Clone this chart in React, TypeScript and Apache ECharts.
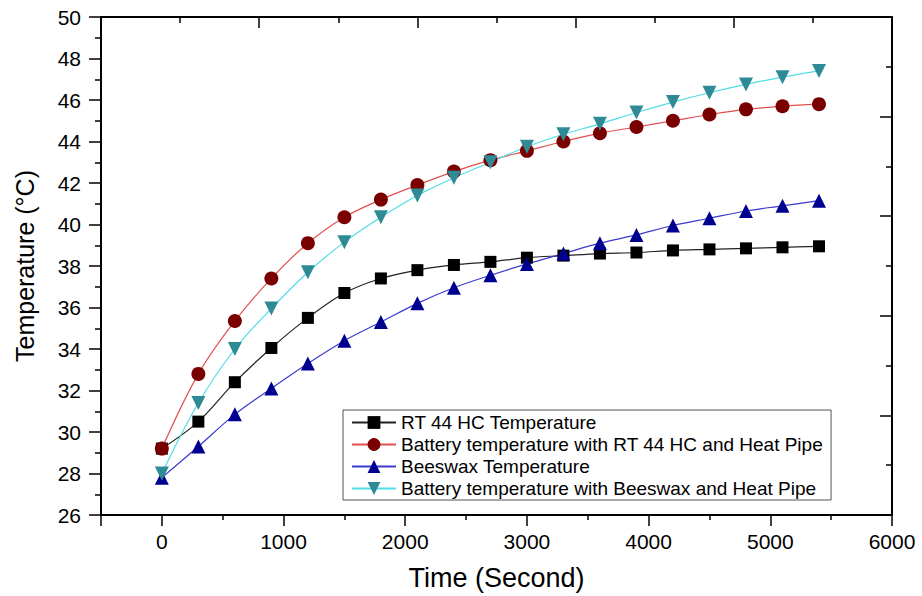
import React, { useEffect, useRef } from "react";
import * as echarts from "echarts";

const timeSec = [0, 300, 600, 900, 1200, 1500, 1800, 2100, 2400, 2700, 3000, 3300, 3600, 3900, 4200, 4500, 4800, 5100, 5400];
const rt44 = [29.2, 30.5, 32.4, 34.05, 35.5, 36.7, 37.4, 37.8, 38.05, 38.2, 38.4, 38.5, 38.6, 38.65, 38.75, 38.8, 38.85, 38.9, 38.95];
const rt44HeatPipe = [29.2, 32.8, 35.35, 37.4, 39.1, 40.35, 41.2, 41.9, 42.55, 43.1, 43.55, 44.0, 44.4, 44.7, 45.0, 45.3, 45.55, 45.7, 45.8];
const beeswax = [27.8, 29.3, 30.85, 32.1, 33.3, 34.4, 35.3, 36.2, 36.95, 37.55, 38.1, 38.6, 39.1, 39.5, 39.95, 40.3, 40.65, 40.9, 41.15];
const beeswaxHeatPipe = [28.0, 31.4, 34.0, 35.95, 37.7, 39.15, 40.35, 41.4, 42.25, 43.0, 43.75, 44.35, 44.85, 45.4, 45.9, 46.35, 46.75, 47.1, 47.4];

const seriesNames = [
  "RT 44 HC Temperature",
  "Battery temperature with RT 44 HC and Heat Pipe",
  "Beeswax Temperature",
  "Battery temperature with Beeswax and Heat Pipe",
];

const FONT = "'Liberation Sans', Arial, Helvetica, sans-serif";

const pair = (ys: number[]) => timeSec.map((t, i) => [t, ys[i]]);

export default function App() {
  const ref = useRef<HTMLDivElement>(null);
  useEffect(() => {
    if (!ref.current) return;
    const chart = echarts.init(ref.current, undefined, { renderer: "svg" });
    const axisLine = { show: true, onZero: false, lineStyle: { color: "#000", width: 2 } };
    const mk = (name: string, ys: number[], line: string, marker: string, symbol: string, size: number, rotate = 0) => ({
      name,
      type: "line",
      data: pair(ys),
      smooth: 0.35,
      symbol,
      symbolSize: size,
      symbolRotate: rotate,
      showSymbol: true,
      lineStyle: { color: line, width: 1.2 },
      itemStyle: { color: marker, borderWidth: 0 },
      xAxisIndex: 0,
      yAxisIndex: 0,
    });
    chart.setOption({
      animation: false,
      backgroundColor: "#fff",
      grid: { left: 101, right: 30, top: 17, bottom: 79 },
      legend: {
        orient: "vertical",
        left: 343,
        top: 410,
        backgroundColor: "#fff",
        borderColor: "#555",
        borderWidth: 1,
        borderRadius: 0,
        padding: [3, 8, 2, 8],
        itemGap: 3,
        itemWidth: 44,
        itemHeight: 16,
        textStyle: { fontFamily: FONT, fontSize: 19, color: "#000", lineHeight: 16 },
        data: seriesNames,
      },
      xAxis: [
        {
          type: "value",
          position: "bottom",
          min: -500,
          max: 6000,
          splitNumber: 6,
          axisLine,
          axisTick: { show: true, inside: false, length: 11, lineStyle: { color: "#000", width: 1.5 } },
          minorTick: { show: true, splitNumber: 2, length: 5, lineStyle: { color: "#000", width: 1.5 } },
          splitLine: { show: false },
          axisLabel: {
            color: "#000",
            fontFamily: FONT,
            fontSize: 21,
            margin: 16,
            showMinLabel: false,
            formatter: (v: number) => (v % 1000 === 0 ? String(v) : ""),
          },
          name: "Time (Second)",
          nameLocation: "middle",
          nameGap: 49,
          nameTextStyle: { fontFamily: FONT, fontSize: 27, color: "#000" },
        },
        {
          type: "value",
          position: "top",
          min: 0,
          max: 5,
          interval: 1,
          axisLine,
          axisTick: { show: true, inside: true, length: 11, lineStyle: { color: "#000", width: 1.5 } },
          minorTick: { show: true, splitNumber: 2, length: 6, lineStyle: { color: "#000", width: 1.5 } },
          splitLine: { show: false },
          axisLabel: { show: false },
        },
      ],
      yAxis: [
        {
          type: "value",
          position: "left",
          min: 26,
          max: 50,
          interval: 2,
          axisLine,
          axisTick: { show: true, inside: false, length: 12, lineStyle: { color: "#000", width: 1.5 } },
          minorTick: { show: true, splitNumber: 2, length: 6, lineStyle: { color: "#000", width: 1.5 } },
          splitLine: { show: false },
          axisLabel: { color: "#000", fontFamily: FONT, fontSize: 21, margin: 20 },
          name: "Temperature (°C)",
          nameLocation: "middle",
          nameGap: 64,
          nameTextStyle: { fontFamily: FONT, fontSize: 25, color: "#000" },
        },
        {
          type: "value",
          position: "right",
          min: 0,
          max: 5,
          interval: 1,
          axisLine,
          axisTick: { show: true, inside: true, length: 12, lineStyle: { color: "#000", width: 1.5 } },
          minorTick: { show: true, splitNumber: 2, length: 6, lineStyle: { color: "#000", width: 1.5 } },
          splitLine: { show: false },
          axisLabel: { show: false },
        },
      ],
      series: [
        mk(seriesNames[0], rt44, "#222", "#000", "rect", 12),
        mk(seriesNames[1], rt44HeatPipe, "#e05050", "#7a0000", "circle", 14),
        mk(seriesNames[2], beeswax, "#3a3ad0", "#000090", "triangle", 14),
        mk(seriesNames[3], beeswaxHeatPipe, "#50dde6", "#2e8b96", "triangle", 14, 180),
      ],
    });
    return () => chart.dispose();
  }, []);
  return <div ref={ref} style={{ position: "fixed", left: 0, top: 0, width: 922, height: 596 }} />;
}
